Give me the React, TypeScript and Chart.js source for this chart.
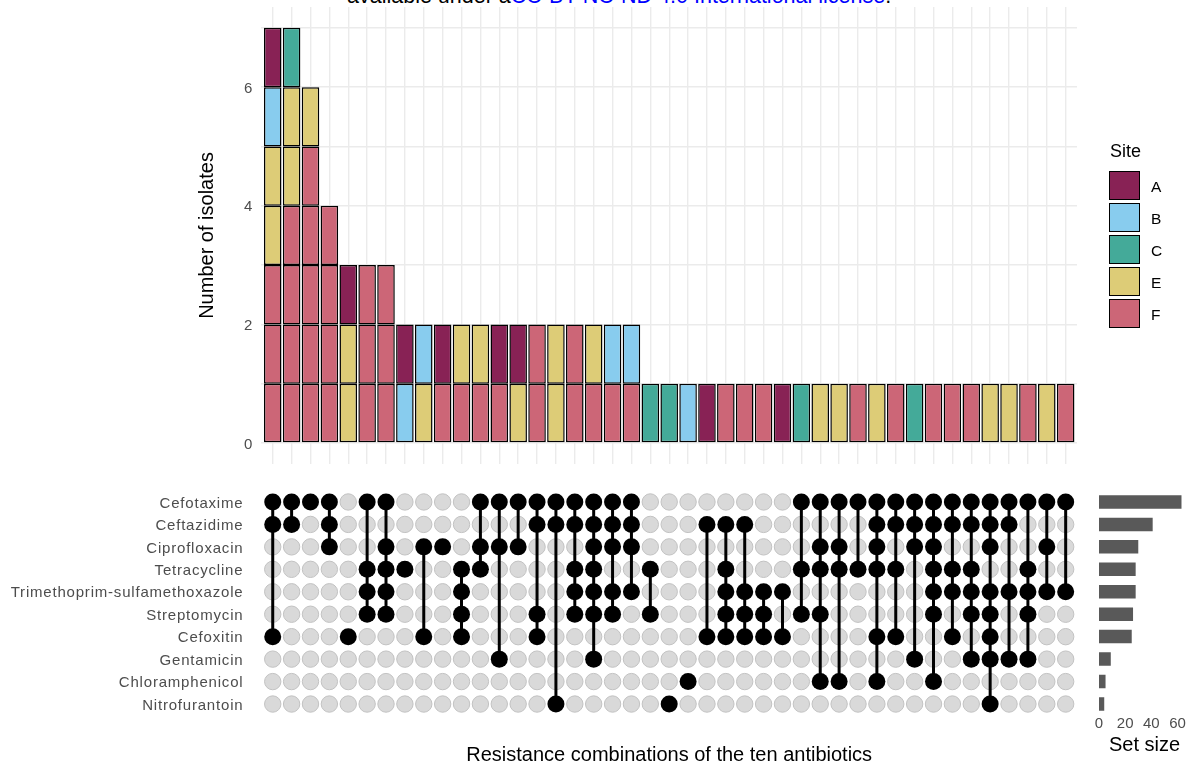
import React, { useEffect, useRef } from "react";
import { Chart, registerables } from "chart.js";

Chart.register(...registerables);

const FONT = "'Liberation Sans', Arial, Helvetica, sans-serif";
Chart.defaults.font.family = FONT;

// ---- data ----
const siteNames = ["A", "B", "C", "E", "F"];
const siteColors = ["#882255", "#88CCEE", "#44AA99", "#DDCC77", "#CC6677"];

// isolates per intersection (43 columns), by site
const siteA = [1,0,0,0,1,0,0,1,0,1,0,0,1,1,0,0,0,0,0,0,0,0,0,1,0,0,0,1,0,0,0,0,0,0,0,0,0,0,0,0,0,0,0];
const siteB = [1,0,0,0,0,0,0,1,1,0,0,0,0,0,0,0,0,0,1,1,0,0,1,0,0,0,0,0,0,0,0,0,0,0,0,0,0,0,0,0,0,0,0];
const siteC = [0,1,0,0,0,0,0,0,0,0,0,0,0,0,0,0,0,0,0,0,1,1,0,0,0,0,0,0,1,0,0,0,0,0,1,0,0,0,0,0,0,0,0];
const siteE = [2,2,1,0,2,0,0,0,1,0,1,1,0,1,0,2,0,1,0,0,0,0,0,0,0,0,0,0,0,1,1,0,1,0,0,0,0,0,1,1,0,1,0];
const siteF = [3,4,5,4,0,3,3,0,0,1,1,1,1,0,2,0,2,1,1,1,0,0,0,0,1,1,1,0,0,0,0,1,0,1,0,1,1,1,0,0,1,0,1];

const antibiotics = [
  "Cefotaxime",
  "Ceftazidime",
  "Ciprofloxacin",
  "Tetracycline",
  "Trimethoprim-sulfamethoxazole",
  "Streptomycin",
  "Cefoxitin",
  "Gentamicin",
  "Chloramphenicol",
  "Nitrofurantoin",
];
const abbrevs = ["CTX", "CAZ", "CIP", "TET", "SXT", "STR", "FOX", "GEN", "CHL", "NIT"];

const combinations = [
  "CTX CAZ FOX", "CTX CAZ", "CTX", "CTX CAZ CIP", "FOX",
  "CTX TET SXT STR", "CTX CIP TET SXT STR", "TET", "CIP FOX", "CIP",
  "TET SXT STR FOX", "CTX CIP TET", "CTX CIP GEN", "CTX CIP", "CTX CAZ STR FOX",
  "CTX CAZ NIT", "CTX CAZ TET SXT STR", "CTX CAZ CIP TET SXT STR GEN", "CTX CAZ CIP SXT STR", "CTX CAZ CIP SXT",
  "TET STR", "NIT", "CHL", "CAZ FOX", "CAZ TET SXT STR FOX",
  "CAZ SXT STR FOX", "SXT STR FOX", "SXT FOX", "CTX TET STR", "CTX CIP TET STR CHL",
  "CTX CIP TET CHL", "CTX TET", "CTX CAZ CIP TET FOX CHL", "CTX CAZ TET FOX", "CTX CAZ CIP GEN",
  "CTX CAZ CIP TET SXT STR CHL", "CTX CAZ TET SXT FOX", "CTX CAZ TET SXT STR GEN", "CTX CAZ CIP SXT STR FOX GEN NIT", "CTX CAZ SXT GEN",
  "CTX TET SXT STR GEN", "CTX CIP SXT", "CTX SXT",
];

const setSizes = [63, 41, 30, 28, 28, 26, 25, 9, 5, 4];

const countTicks = [0, 2, 4, 6];
const setSizeTicks = [0, 20, 40, 60];

const headerBlack = "available under a";
const headerLink = "CC-BY-NC-ND 4.0 International license";
const xTitle = "Resistance combinations of the ten antibiotics";

// ---- geometry ----
const W = 1199;
const H = 764;
const PLOT_LEFT = 261.4;
const PLOT_RIGHT = 1077;
const TICK_COLOR = "#4D4D4D";
const GRID_COLOR = "#EBEBEB";

function zeroPad(s: any) {
  s.paddingLeft = 0;
  s.paddingRight = 0;
  s.paddingTop = 0;
  s.paddingBottom = 0;
}

const spacingPlugin = {
  id: "letterSpacing",
  beforeDraw(chart: any) {
    chart.ctx.letterSpacing = "0.8px";
  },
  afterDraw(chart: any) {
    chart.ctx.letterSpacing = "0px";
  },
};

export default function App() {
  const barRef = useRef<HTMLCanvasElement>(null);
  const matRef = useRef<HTMLCanvasElement>(null);
  const setRef = useRef<HTMLCanvasElement>(null);

  useEffect(() => {
    const nCols = combinations.length;
    const colIdx = Array.from({ length: nCols }, (_, i) => i + 1);
    const bySite = [siteA, siteB, siteC, siteE, siteF];
    // stack order bottom -> top: F, E, C, B, A
    const stackOrder = [4, 3, 2, 1, 0];
    const units: number[][] = colIdx.map((_, i) => {
      const u: number[] = [];
      stackOrder.forEach((s) => {
        for (let k = 0; k < bySite[s][i]; k++) u.push(s);
      });
      return u;
    });
    const maxH = Math.max(...units.map((u) => u.length));
    const layers = Array.from({ length: maxH }, (_, k) => {
      const pts: any[] = [];
      const cols: string[] = [];
      units.forEach((u, i) => {
        if (u.length > k) {
          pts.push({ x: i + 1, y: 1 });
          cols.push(siteColors[u[k]]);
        }
      });
      return { pts, cols };
    });

    const barChart = new Chart(barRef.current!, {
      type: "bar",
      data: {
        datasets: layers.map((l) => ({
          data: l.pts,
          backgroundColor: l.cols,
          borderColor: "#000000",
          borderWidth: 1.5,
          borderSkipped: false,
          barPercentage: 0.93,
          categoryPercentage: 1,
        })),
      },
      options: {
        animation: false,
        responsive: false,
        maintainAspectRatio: false,
        layout: { padding: { left: 0, right: W - PLOT_RIGHT, top: 7.1, bottom: H - 463.8 } },
        plugins: { legend: { display: false }, tooltip: { enabled: false } },
        scales: {
          x: {
            type: "linear",
            min: 0.4,
            max: nCols + 0.6,
            stacked: true,
            offset: false,
            afterBuildTicks: (s: any) => {
              s.ticks = colIdx.map((v) => ({ value: v }));
            },
            afterFit: (s: any) => {
              s.height = 0;
              zeroPad(s);
            },
            ticks: { display: false, autoSkip: false },
            grid: { color: GRID_COLOR, lineWidth: 1.4, drawTicks: false, offset: false },
            border: { display: false },
          },
          y: {
            type: "linear",
            min: -0.35,
            max: 7.35,
            stacked: true,
            afterBuildTicks: (s: any) => {
              s.ticks = [0, 1, 2, 3, 4, 5, 6, 7].map((v) => ({ value: v }));
            },
            afterFit: (s: any) => {
              s.width = PLOT_LEFT;
              zeroPad(s);
            },
            ticks: {
              autoSkip: false,
              color: TICK_COLOR,
              font: { size: 15 },
              padding: 9,
              labelOffset: 1.5,
              callback: (v: any) => (countTicks.includes(Number(v)) ? String(v) : ""),
            },
            grid: { color: GRID_COLOR, lineWidth: 1.4, drawTicks: false },
            border: { display: false },
            title: {
              display: true,
              text: "Number of isolates",
              color: "#000000",
              font: { size: 20, lineHeight: 1 },
              padding: { top: 197, bottom: 0 },
            },
          },
        },
      } as any,
    });

    // matrix
    const black: any[] = [];
    const grey: any[] = [];
    const lines: any[] = [];
    combinations.forEach((c, i) => {
      const rows = c.split(" ").map((a) => abbrevs.indexOf(a) + 1);
      for (let r = 1; r <= antibiotics.length; r++) {
        if (rows.includes(r)) black.push({ x: i + 1, y: r });
        else grey.push({ x: i + 1, y: r });
      }
      if (rows.length > 1) {
        lines.push({
          data: [
            { x: i + 1, y: Math.min(...rows) },
            { x: i + 1, y: Math.max(...rows) },
          ],
          showLine: true,
          borderColor: "#000000",
          borderWidth: 3,
          pointRadius: 0,
          order: 1,
        });
      }
    });

    const matChart = new Chart(matRef.current!, {
      type: "scatter",
      data: {
        datasets: [
          {
            data: black,
            pointRadius: 8.5,
            pointBackgroundColor: "#000000",
            pointBorderColor: "#000000",
            pointBorderWidth: 0,
            order: 0,
          },
          ...lines,
          {
            data: grey,
            pointRadius: 8.2,
            pointBackgroundColor: "#D9D9D9",
            pointBorderColor: "#C2C2C2",
            pointBorderWidth: 1,
            order: 2,
          },
        ],
      },
      options: {
        animation: false,
        responsive: false,
        maintainAspectRatio: false,
        layout: { padding: { left: 0, right: W - PLOT_RIGHT, top: 488.5, bottom: H - 717.5 } },
        plugins: { legend: { display: false }, tooltip: { enabled: false } },
        scales: {
          x: {
            type: "linear",
            min: 0.4,
            max: nCols + 0.6,
            display: false,
          },
          y: {
            type: "linear",
            min: 0.4,
            max: antibiotics.length + 0.6,
            reverse: true,
            afterBuildTicks: (s: any) => {
              s.ticks = antibiotics.map((_, i) => ({ value: i + 1 }));
            },
            afterFit: (s: any) => {
              s.width = PLOT_LEFT;
              zeroPad(s);
            },
            ticks: {
              autoSkip: false,
              color: TICK_COLOR,
              font: { size: 15 },
              padding: 10,
              labelOffset: 1.5,
              callback: (v: any) => antibiotics[Number(v) - 1] ?? "",
            },
            grid: { display: false },
            border: { display: false },
          },
        },
      } as any,
      plugins: [spacingPlugin],
    });

    // set sizes
    const setChart = new Chart(setRef.current!, {
      type: "bar",
      data: {
        datasets: [
          {
            data: setSizes.map((v, i) => ({ x: v, y: i + 1 })),
            backgroundColor: "#595959",
            borderWidth: 0,
            barPercentage: 0.6,
            categoryPercentage: 1,
          },
        ],
      },
      options: {
        animation: false,
        responsive: false,
        maintainAspectRatio: false,
        indexAxis: "y",
        layout: { padding: { left: 1099, right: 9, top: 488.5, bottom: 0 } },
        plugins: { legend: { display: false }, tooltip: { enabled: false } },
        scales: {
          x: {
            type: "linear",
            min: 0,
            max: 69.5,
            afterBuildTicks: (s: any) => {
              s.ticks = setSizeTicks.map((v) => ({ value: v }));
            },
            afterFit: (s: any) => {
              s.height = H - 712;
              zeroPad(s);
            },
            ticks: { color: TICK_COLOR, font: { size: 15 }, padding: -5.5, autoSkip: false, maxRotation: 0 },
            grid: { display: false },
            border: { display: false },
            title: {
              display: true,
              text: "Set size",
              color: "#000000",
              font: { size: 20, lineHeight: 1 },
              padding: { top: 0, bottom: 9 },
            },
          },
          y: {
            type: "linear",
            min: 0.4,
            max: 10.36,
            reverse: true,
            offset: false,
            display: false,
            grid: { display: false, offset: false },
          },
        },
      } as any,
    });

    return () => {
      barChart.destroy();
      matChart.destroy();
      setChart.destroy();
    };
  }, []);

  const canvasStyle: React.CSSProperties = { position: "absolute", left: 0, top: 0, display: "block" };

  return (
    <div
      style={{
        position: "fixed",
        left: 0,
        top: 0,
        width: W,
        height: H,
        background: "#ffffff",
        overflow: "hidden",
        fontFamily: FONT,
      }}
    >
      <div
        style={{
          position: "absolute",
          left: 347,
          top: -14.5,
          fontSize: 21.5,
          lineHeight: "21.5px",
          whiteSpace: "nowrap",
          color: "#000000",
        }}
      >
        {headerBlack}
        <span style={{ color: "#0000FF" }}>{headerLink}</span>.
      </div>
      <canvas ref={barRef} width={W} height={H} style={canvasStyle} />
      <canvas ref={matRef} width={W} height={H} style={canvasStyle} />
      <canvas ref={setRef} width={W} height={H} style={canvasStyle} />
      <div
        style={{
          position: "absolute",
          left: (PLOT_LEFT + PLOT_RIGHT) / 2 - 300,
          width: 600,
          textAlign: "center",
          top: 744,
          fontSize: 20,
          lineHeight: "20px",
          whiteSpace: "nowrap",
          color: "#000000",
        }}
      >
        {xTitle}
      </div>
      <div
        style={{
          position: "absolute",
          left: 1110,
          top: 142,
          fontSize: 18,
          lineHeight: "18px",
          color: "#000000",
        }}
      >
        Site
      </div>
      {siteNames.map((s, i) => (
        <React.Fragment key={s}>
          <div
            style={{
              position: "absolute",
              left: 1109,
              top: 171 + i * 32,
              width: 31,
              height: 29,
              boxSizing: "border-box",
              border: "1.3px solid #000000",
              background: siteColors[i],
            }}
          />
          <div
            style={{
              position: "absolute",
              left: 1151,
              top: 171 + i * 32 + 8,
              fontSize: 15.5,
              lineHeight: "15.5px",
              color: "#000000",
            }}
          >
            {s}
          </div>
        </React.Fragment>
      ))}
    </div>
  );
}
